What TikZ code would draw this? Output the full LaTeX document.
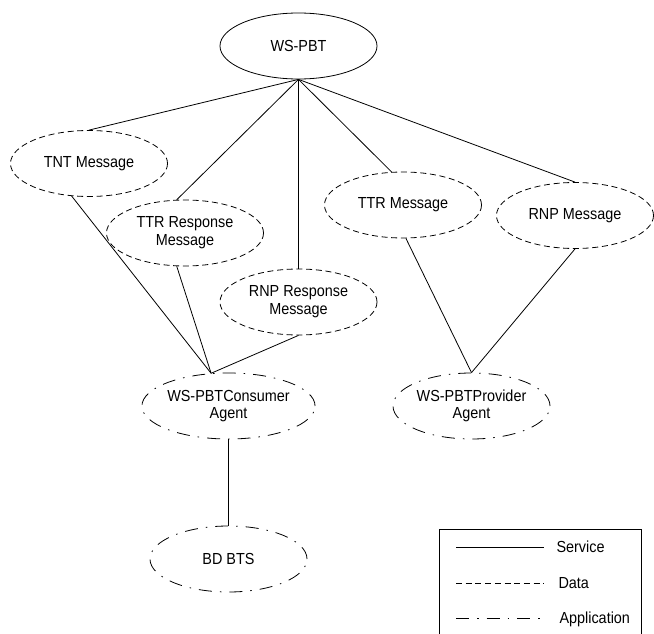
\documentclass[tikz,border=0pt]{standalone}
\usepackage{fontspec}
\setmainfont{Liberation Sans}[FakeStretch=0.9]
\usetikzlibrary{shapes.geometric}
\begin{document}
\begin{tikzpicture}[x=1pt,y=-1pt,
  every node/.style={font=\fontsize{16}{17.7}\selectfont},
  oval/.style={ellipse, draw, minimum width=157pt, minimum height=66pt,
    inner sep=0pt, align=center, line width=0.8pt},
  svc/.style={oval},
  datum/.style={oval, dash pattern=on 6pt off 3.7pt},
  app/.style={oval, dash pattern=on 13pt off 8pt on 1.5pt off 8pt},
  link/.style={line width=0.8pt},
  datalink/.style={link, dash pattern=on 6pt off 3.7pt},
  applink/.style={link, dash pattern=on 13pt off 8pt on 1.5pt off 8pt},
  key/.style={anchor=base west}]
\useasboundingbox (0,0) rectangle (654,634);

% service, messages and agents
\node[svc]   (ws)   at (298.5,46)  {WS-PBT};
\node[datum] (tnt)  at (89,163.5)  {TNT Message};
\node[datum] (ttrr) at (185,233)   {TTR Response\\Message};
\node[datum] (rnpr) at (298.5,302) {RNP Response\\Message};
\node[datum] (ttr)  at (403,205)   {TTR Message};
\node[datum] (rnp)  at (575,215.5) {RNP Message};
\node[app]   (cons) at (228.5,406) {WS-PBTConsumer\\Agent};
\node[app]   (prov) at (471.5,406) {WS-PBTProvider\\Agent};
\node[app]   (bts)  at (228.5,559) {BD BTS};

% service to messages
\draw[link] (ws.south) -- (tnt.north);
\draw[link] (ws.south) -- (ttrr.104);
\draw[link] (ws.south) -- (rnpr.north);
\draw[link] (ws.south) -- (ttr.109);
\draw[link] (ws.south) -- (rnp.north);

% messages to agents
\draw[link] (tnt.242)    -- (cons.118);
\draw[link] (ttrr.256)   -- (cons.118);
\draw[link] (rnpr.south) -- (cons.118);
\draw[link] (ttr.275)    -- (prov.north);
\draw[link] (rnp.south)  -- (prov.north);

% consumer agent to the BTS
\draw[link] (cons.south) -- (bts.north);

% legend
\draw[link] (439,634) -- (439,529) -- (641,529) -- (641,634);
\coordinate (k1a) at (456,547); \coordinate (k1b) at (544,547);
\coordinate (k2a) at (456,583); \coordinate (k2b) at (544,583);
\coordinate (k3a) at (456,618); \coordinate (k3b) at (544,618);
\draw[link]     (k1a) -- (k1b);
\draw[datalink] (k2a) -- (k2b);
\draw[applink]  (k3a) -- (k3b);
\node[key] (ksvc)  at (553,552.5) {Service};
\node[key] (kdata) at (555,588.5) {Data};
\node[key] (kapp)  at (556,623.5) {Application};
\end{tikzpicture}
\end{document}
